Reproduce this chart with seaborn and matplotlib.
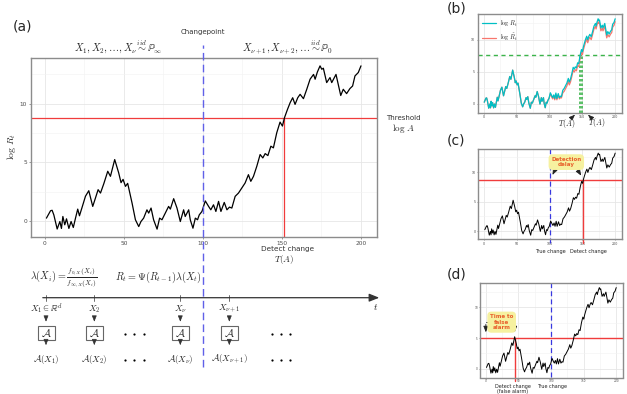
import numpy as np
import pandas as pd
import matplotlib
matplotlib.use("Agg")
import matplotlib.pyplot as plt
import seaborn as sns
from matplotlib.patches import Rectangle

# ---------------- data ----------------
t_vals = [1, 3.6, 4.6, 5.7, 7.8, 9.5, 10.5, 11.4, 12.6, 13.7,
          15.2, 16.6, 18, 19.4, 20.8, 21.9, 23.6, 25.7, 27.8, 30.3,
          32, 33.7, 35.2, 37.3, 39.8, 41.5, 44.2, 46.7, 48.2, 49.5,
          51, 52.4, 55.2, 57.3, 59.4, 60.8, 62.5, 64.6, 65.7, 67.2,
          68.8, 71, 72.6, 74.1, 76.2, 78.3, 79.4, 81.5, 83.6, 85.7,
          87.8, 88.8, 91, 92, 93.7, 95.2, 96.6, 97.7, 99.4, 101.5,
          103.6, 105, 106.7, 108.2, 109.9, 111.4, 113.5, 115.2, 116.8, 118.3,
          120.4, 122.5, 124.6, 126.7, 128.8, 130.3, 132, 134.1, 136.2, 137.9,
          139.4, 141.1, 143, 144.6, 146.7, 148.8, 150.3, 151.6, 153.5, 155.2,
          156.8, 158.3, 160, 161.5, 163.6, 165.7, 167.8, 170, 171, 172.4,
          174.1, 175.2, 176.2, 178.3, 180.4, 181.5, 184.2, 187.2, 188.8, 190.9,
          193, 194.7, 196.2, 198.3, 200]
log_r = [0.23, 0.86, 0.9, 0.5, -0.7, -0.06, -0.65, 0.37, -0.34, 0.17,
         -0.65, -0.06, -0.57, 0.23, 1.0, 0.43, 1.17, 2.1, 2.57, 1.23,
         1.94, 2.66, 2.37, 3.17, 4.23, 3.8, 5.23, 4.1, 3.26, 3.54,
         2.94, 3.2, 1.5, 0.09, -0.49, -0.06, 0.23, 0.94, 0.66, 1.09,
         0.09, -0.71, 0.23, 0.09, 0.66, 1.23, 1.0, 1.89, 1.09, -0.06,
         0.94, 0.37, 0.94, 0.09, -0.63, 0.23, 0.09, 0.51, 0.8, 1.7,
         1.23, 0.94, 1.37, 0.8, 1.66, 0.8, 1.57, 0.94, 1.17, 1.09,
         2.09, 2.37, 2.8, 3.23, 3.94, 3.37, 3.8, 4.66, 5.66, 5.37,
         5.74, 5.57, 6.37, 6.23, 7.51, 8.43, 8.09, 8.8, 9.51, 10.09,
         10.51, 9.94, 10.51, 10.8, 10.43, 11.23, 12.09, 12.5, 12.09, 12.7,
         13.23, 12.94, 13.03, 11.8, 12.23, 11.8, 12.5, 10.7, 11.23, 10.86,
         11.29, 11.51, 12.37, 12.66, 13.23]
log_r_tilde = [0.23, 0.86, 0.9, 0.5, -0.7, -0.06, -0.65, 0.37, -0.34, 0.17,
               -0.65, -0.06, -0.57, 0.23, 1.0, 0.43, 1.17, 2.1, 2.57, 1.23,
               1.94, 2.66, 2.37, 3.17, 4.23, 3.8, 5.23, 4.1, 3.26, 3.54,
               2.94, 3.2, 1.5, 0.09, -0.49, -0.06, 0.23, 0.94, 0.66, 1.09,
               0.09, -0.71, 0.23, 0.09, 0.66, 1.23, 1.0, 1.89, 1.09, -0.06,
               0.94, 0.37, 0.94, 0.09, -0.63, 0.23, 0.09, 0.51, 0.8, 1.5,
               1.03, 0.74, 1.17, 0.6, 1.46, 0.6, 1.37, 0.74, 0.97, 0.89,
               1.69, 1.92, 2.35, 2.78, 3.49, 2.92, 3.35, 4.21, 5.21, 4.92,
               5.29, 5.12, 5.92, 5.78, 7.06, 7.98, 7.64, 8.35, 9.06, 9.64,
               10.06, 9.49, 10.06, 10.35, 9.98, 10.78, 11.64, 12.05, 11.64, 12.25,
               12.78, 12.49, 12.58, 11.35, 11.78, 11.35, 12.05, 10.25, 10.78, 10.41,
               10.84, 11.06, 11.92, 12.21, 12.78]

x_ticks = [0, 50, 100, 150, 200]
x_minor = [25, 75, 125, 175]
y_ticks = [0, 5, 10]
y_minor = [2.5, 7.5, 12.5]

changepoint = 100
threshold_a, detect_a = 8.74, 151.6
threshold_b, T_b, T_tilde_b = 7.58, 146.0, 149.5
threshold_c, detect_c = 8.7, 151.6
threshold_d, detect_d = 5.1, 44.2

timeline_inputs = [r"$X_1 \in \mathbb{R}^d$", r"$X_2$", r"$X_\nu$", r"$X_{\nu+1}$"]
timeline_outputs = [r"$\mathcal{A}(X_1)$", r"$\mathcal{A}(X_2)$",
                    r"$\mathcal{A}(X_\nu)$", r"$\mathcal{A}(X_{\nu+1})$"]

df = pd.DataFrame({"t": t_vals, "log_r": log_r, "log_r_tilde": log_r_tilde})

# ---------------- styling ----------------
sns.set_theme(style="white")
plt.rcParams['font.family'] = ['DejaVu Sans']
plt.rcParams['mathtext.fontset'] = 'cm'

W, H = 627, 394
fig = plt.figure(figsize=(W / 100, H / 100), dpi=100)
fig.patch.set_facecolor("white")

RED = "#f03c3c"
BLUE = "#6060e8"
GREEN = "#3cb44b"
CYAN = "#00BFC4"
SALMON = "#F8766D"

rng = 200 - 1
XL = (1 - 0.05 * rng, 200 + 0.05 * rng)
ymn, ymx = min(log_r), max(log_r)
YL = (ymn - 0.05 * (ymx - ymn), ymx + 0.05 * (ymx - ymn))


def px_axes(x0, y0, x1, y1):
    return fig.add_axes([x0 / W, 1 - y1 / H, (x1 - x0) / W, (y1 - y0) / H])


def style(ax, fs, tick_len=1.5, pad=1.0):
    ax.set_xlim(*XL)
    ax.set_ylim(*YL)
    ax.set_xticks(x_ticks)
    ax.set_yticks(y_ticks)
    ax.set_xticks(x_minor, minor=True)
    ax.set_yticks(y_minor, minor=True)
    ax.grid(True, which='major', color='#e6e6e6', lw=0.6)
    ax.grid(True, which='minor', color='#f2f2f2', lw=0.4)
    ax.set_axisbelow(True)
    for s in ax.spines.values():
        s.set_color('#8c8c8c')
        s.set_linewidth(1.0)
    ax.tick_params(which='major', labelsize=fs, colors='#4d4d4d', length=tick_len,
                   width=0.4, pad=pad, bottom=True, left=True)
    ax.tick_params(which='minor', length=0)
    ax.set_xlabel('')
    ax.set_ylabel('')


ARROW_SMALL = dict(arrowstyle="-|>,head_length=0.3,head_width=0.12",
                   color="#222222", lw=0.6)

# ---------------- panel (a) ----------------
ax = px_axes(30.7, 57.7, 376.7, 237.3)
style(ax, 4.2)
ax.axhline(threshold_a, color=RED, lw=0.9, zorder=2)
ax.plot([detect_a, detect_a], [YL[0], threshold_a], color=RED, lw=0.9, zorder=2)
sns.lineplot(data=df, x="t", y="log_r", ax=ax, color="black", lw=0.9, zorder=3)
ax.set_xlabel('')
ax.set_ylabel('')
ax.axvline(changepoint, ymin=(237.3 - 367) / 179.6, ymax=(237.3 - 45) / 179.6,
           color=BLUE, lw=1.0, dashes=(5.5, 3), clip_on=False, zorder=4)

fig.text(13 / W, 1 - 27 / H, "(a)", fontsize=10, va='center', ha='left')
fig.text(203 / W, 1 - 32 / H, "Changepoint", fontsize=5, va='center', ha='center',
         color='#333333')
fig.text(118 / W, 1 - 47 / H, r"$X_1, X_2, \ldots, X_\nu \overset{iid}{\sim} \mathbb{P}_\infty$",
         fontsize=7.3, va='center', ha='center')
fig.text(288 / W, 1 - 47 / H, r"$X_{\nu+1}, X_{\nu+2}, \ldots \overset{iid}{\sim} \mathbb{P}_0$",
         fontsize=7.3, va='center', ha='center')
fig.text(12 / W, 1 - 147 / H, r"$\log\, R_t$", fontsize=7, rotation=90,
         va='center', ha='center')
fig.text(386 / W, 1 - 118 / H, "Threshold", fontsize=5, va='center', ha='left',
         color='#333333')
fig.text(392 / W, 1 - 129 / H, r"$\log\, A$", fontsize=6.5, va='center', ha='left')
fig.text(288 / W, 1 - 249 / H, "Detect change", fontsize=5.2, va='center',
         ha='center', color='#333333')
fig.text(284 / W, 1 - 259.5 / H, r"$T(A)$", fontsize=6.5, va='center', ha='center')

# ---------------- timeline diagram (overlay in pixel coords) ----------------
ov = fig.add_axes([0, 0, 1, 1])
ov.set_xlim(0, W)
ov.set_ylim(H, 0)
ov.axis('off')

ov.text(30, 277, r"$\lambda(X_i) = \frac{f_{0,X}(X_i)}{f_{\infty,X}(X_i)}$",
        fontsize=7.3, va='center', ha='left')
ov.text(115, 277, r"$R_t = \Psi(R_{t-1})\lambda(X_t)$", fontsize=7.3,
        va='center', ha='left')
ov.annotate("", xy=(382, 297.7), xytext=(40, 297.7),
            arrowprops=dict(arrowstyle="-|>,head_length=0.5,head_width=0.2",
                            color="#333333", lw=0.9))
ov.text(376, 307, r"$t$", fontsize=7, va='center', ha='center')

tl_x = [46, 94.3, 180.3, 229.3]
for xp, lab_in, lab_out in zip(tl_x, timeline_inputs, timeline_outputs):
    ov.plot([xp, xp], [294.5, 301], color="#555555", lw=0.6)
    ov.text(xp, 309, lab_in, fontsize=6.5, va='center', ha='center')
    ov.annotate("", xy=(xp, 324.5), xytext=(xp, 316.5),
                arrowprops=dict(arrowstyle="-|>,head_length=0.3,head_width=0.12",
                                color="#333333", lw=0.5))
    ov.add_patch(Rectangle((xp - 8.5, 326.3), 17, 14, fill=False,
                           edgecolor="#666666", lw=0.8))
    ov.text(xp, 333.5, r"$\mathcal{A}$", fontsize=8, va='center', ha='center')
    ov.annotate("", xy=(xp, 348), xytext=(xp, 340.5),
                arrowprops=dict(arrowstyle="-|>,head_length=0.3,head_width=0.12",
                                color="#333333", lw=0.5))
    ov.text(xp, 359, lab_out, fontsize=6.5, va='center', ha='center')

for cx in [134.3, 281]:
    for cy in [333.5, 359.5]:
        ov.plot([cx - 9.3, cx, cx + 9.3], [cy, cy, cy], 'o', color='black',
                ms=1.6, mew=0)

# ---------------- panel (b) ----------------
axb = px_axes(477.7, 14.3, 621.7, 112.7)
style(axb, 2.3, tick_len=1)
axb.axhline(threshold_b, color=GREEN, lw=1.0, dashes=(3, 2.5), zorder=2)
for xv in [T_b, T_tilde_b]:
    axb.plot([xv, xv], [YL[0], threshold_b], color=GREEN, lw=1.2,
             dashes=(1.5, 1.2), zorder=2)
sns.lineplot(data=df, x="t", y="log_r_tilde", ax=axb, color=SALMON, lw=0.9,
             zorder=3, label=r"$\log\, \tilde{R}_t$")
sns.lineplot(data=df, x="t", y="log_r", ax=axb, color=CYAN, lw=0.9,
             zorder=4, label=r"$\log\, R_t$")
axb.set_xlabel('')
axb.set_ylabel('')
h, l = axb.get_legend_handles_labels()
axb.legend(h[::-1], l[::-1], loc='upper left', fontsize=4.5, frameon=False,
           handlelength=2.2, borderaxespad=0.3, labelspacing=0.5,
           handletextpad=0.6)
fig.text(447 / W, 1 - 8 / H, "(b)", fontsize=10, va='center', ha='left')
fig.text(567 / W, 1 - 123.5 / H, r"$T(A)$", fontsize=5.5, va='center', ha='center')
fig.text(597 / W, 1 - 123.5 / H, r"$\tilde{T}(A)$", fontsize=5.5, va='center',
         ha='center')
ov.annotate("", xy=(577, 112.8), xytext=(571, 118.5),
            arrowprops=dict(arrowstyle="-|>,head_length=0.3,head_width=0.12",
                            color="#222222", lw=0.5))
ov.annotate("", xy=(586, 112.8), xytext=(592, 118.5),
            arrowprops=dict(arrowstyle="-|>,head_length=0.3,head_width=0.12",
                            color="#222222", lw=0.5))

# ---------------- panel (c) ----------------
axc = px_axes(478.3, 149, 621.7, 239.3)
style(axc, 2.3, tick_len=1)
axc.axhline(threshold_c, color=RED, lw=1.0, zorder=2)
axc.plot([detect_c, detect_c], [YL[0] - 0.6, threshold_c], color=RED, lw=1.0,
         zorder=2, clip_on=False)
axc.plot([changepoint, changepoint], [YL[0] - 0.6, YL[1]], color="#3838e0", lw=0.9,
         dashes=(4, 2.5), zorder=2, clip_on=False)
sns.lineplot(data=df, x="t", y="log_r", ax=axc, color="black", lw=0.7, zorder=3)
axc.set_xlabel('')
axc.set_ylabel('')
fig.text(447 / W, 1 - 141 / H, "(c)", fontsize=10, va='center', ha='left')
fig.text(566 / W, 1 - 251 / H, "True change", fontsize=3.6, va='center', ha='right',
         color='#222222')
fig.text(570 / W, 1 - 251 / H, "Detect change", fontsize=3.6, va='center',
         ha='left', color='#222222')
box_c = dict(boxstyle="round,pad=0.35,rounding_size=0.6", fc="#f6f1a0",
             ec="#f6f1a0")
axc.text(125.4, 11.7, "Detection\ndelay", fontsize=4, color="#e8602c",
         fontweight='bold', ha='center', va='center', bbox=box_c, zorder=6,
         linespacing=1.1)
for (xs, ys), (xe, ye) in [((109, 10.6), (102.5, 9.1)), ((141, 10.7), (150.2, 9.0))]:
    axc.annotate("", xy=(xe, ye), xytext=(xs, ys), arrowprops=ARROW_SMALL,
                 zorder=5)

# ---------------- panel (d) ----------------
axd = px_axes(480, 283.3, 622.7, 377.5)
style(axd, 2.1, tick_len=0.8, pad=0.6)
axd.axhline(threshold_d, color=RED, lw=1.0, zorder=2)
axd.plot([detect_d, detect_d], [YL[0] - 0.6, threshold_d], color=RED, lw=1.0,
         zorder=2, clip_on=False)
axd.plot([changepoint, changepoint], [YL[0], YL[1]], color="#3838e0", lw=0.9,
         dashes=(4, 2.5), zorder=2)
sns.lineplot(data=df, x="t", y="log_r", ax=axd, color="black", lw=0.7, zorder=3)
axd.set_xlabel('')
axd.set_ylabel('')
fig.text(447 / W, 1 - 274 / H, "(d)", fontsize=10, va='center', ha='left')
fig.text(513 / W, 1 - 386.8 / H, "Detect change", fontsize=3.5, va='center',
         ha='center', color='#222222')
fig.text(513 / W, 1 - 391.6 / H, "(false alarm)", fontsize=3.5, va='center',
         ha='center', color='#222222')
fig.text(537 / W, 1 - 386.8 / H, "True change", fontsize=3.5, va='center', ha='left',
         color='#222222')
axd.text(24.3, 7.6, "Time to\nfalse\nalarm", fontsize=4, color="#e8602c",
         fontweight='bold', ha='center', va='center', bbox=box_c, zorder=6,
         linespacing=1.1)
for xe, xs in [(0, 11), (detect_d, 37.5)]:
    axd.plot([xs, xe], [7.7, 7.7], color="#222222", lw=0.6, zorder=5)
    axd.annotate("", xy=(xe, 5.5), xytext=(xe, 7.7), arrowprops=ARROW_SMALL,
                 zorder=5)

fig.savefig("out.png", dpi=100, facecolor="white")
